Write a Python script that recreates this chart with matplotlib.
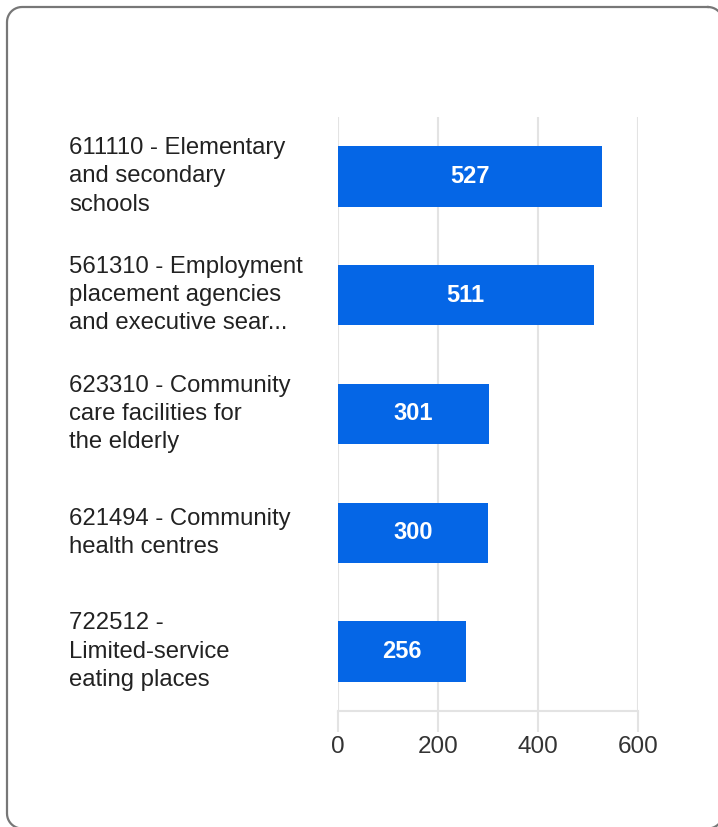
import numpy as np
import matplotlib.pyplot as plt
import matplotlib.transforms as mtransforms
from matplotlib.lines import Line2D

plt.rcParams['font.family'] = ['Liberation Sans', 'DejaVu Sans']

categories = [
    "611110 - Elementary\nand secondary\nschools",
    "561310 - Employment\nplacement agencies\nand executive sear...",
    "623310 - Community\ncare facilities for\nthe elderly",
    "621494 - Community\nhealth centres",
    "722512 -\nLimited-service\neating places",
]
values = [527, 511, 301, 300, 256]
xticks = [0, 200, 400, 600]

W, H = 718, 827
fig = plt.figure(figsize=(W / 100, H / 100), dpi=100)


def card_outline(x0, y0, x1, y1, r, n=12):
    # rounded rectangle outline in pixel coords (y down), as closed polyline
    xs, ys = [], []
    corners = [(x1 - r, y0 + r, -90, 0), (x1 - r, y1 - r, 0, 90),
               (x0 + r, y1 - r, 90, 180), (x0 + r, y0 + r, 180, 270)]
    for cx, cy, a0, a1 in corners:
        t = np.radians(np.linspace(a0, a1, n))
        xs.extend(cx + r * np.cos(t))
        ys.extend(cy + r * np.sin(t))
    xs.append(xs[0])
    ys.append(ys[0])
    return np.array(xs) / W, 1 - np.array(ys) / H


bx, by = card_outline(7, 7, 723, 828.5, 15)
fig.lines.append(Line2D(bx, by, transform=fig.transFigure, color='#777777',
                        linewidth=1.6, solid_joinstyle='round'))

# plot area: x 338..638 px, y 117..711 px
ax = fig.add_axes([338 / W, 1 - 711 / H, 300 / W, 594 / H])
ax.set_facecolor('none')

ypos = list(range(len(values)))
ax.barh(ypos, values, height=0.51, color='#0566e6', zorder=3)

for y, v in zip(ypos, values):
    ax.text(v / 2, y, str(v), ha='center', va='center', color='white',
            fontsize=17, fontweight='bold', zorder=4)

# category labels, left aligned
trans = mtransforms.blended_transform_factory(fig.transFigure, ax.transData)
for y, lab in zip(ypos, categories):
    ax.text(69 / W, y, lab, transform=trans, ha='left', va='center',
            fontsize=17.2, color='#222222', linespacing=1.37)

ax.set_ylim(4.5, -0.5)
ax.set_xlim(0, 600)
ax.set_yticks([])
ax.set_xticks(xticks)
ax.set_xticklabels([str(t) for t in xticks], fontsize=17.5, color='#333333')
ax.tick_params(axis='x', length=15, width=1.5, color='#e3e3e3', pad=3)
ax.grid(axis='x', color='#e3e3e3', linewidth=1.5, zorder=0)

for s in ['top', 'right', 'left']:
    ax.spines[s].set_visible(False)
ax.spines['bottom'].set_color('#e3e3e3')
ax.spines['bottom'].set_linewidth(1.5)

fig.savefig('out.png', dpi=100)
